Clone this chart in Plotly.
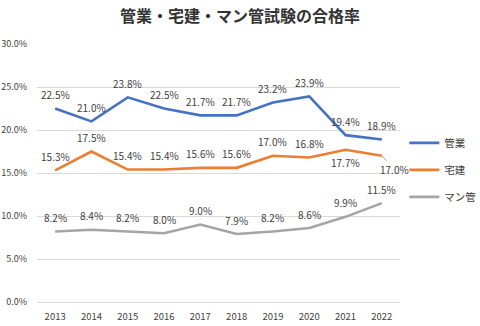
import plotly.graph_objects as go

years = ["2013", "2014", "2015", "2016", "2017", "2018", "2019", "2020", "2021", "2022"]
kangyo = [22.5, 21.0, 23.8, 22.5, 21.7, 21.7, 23.2, 23.9, 19.4, 18.9]
takken = [15.3, 17.5, 15.4, 15.4, 15.6, 15.6, 17.0, 16.8, 17.7, 17.0]
mankan = [8.2, 8.4, 8.2, 8.0, 9.0, 7.9, 8.2, 8.6, 9.9, 11.5]

series = [
    ("管業", kangyo, "#4472C4"),
    ("宅建", takken, "#ED7D31"),
    ("マン管", mankan, "#A5A5A5"),
]

FONT = "Noto Sans CJK JP"
TEXT = "#404040"

fig = go.Figure()
for i, (name, vals, color) in enumerate(series):
    fig.add_trace(go.Scatter(
        x=years, y=vals, name=name, mode="lines",
        line=dict(color=color, width=2.6),
        legendgroup=str(i),
    ))

# value labels: above the point unless overridden (dx, dy in px, arrow)
overrides = {
    ("宅建", "2021"): (0, -13, False),
    ("宅建", "2022"): (13, -14, True),
}
annotations = []
for name, vals, color in series:
    for idx, (yr, v) in enumerate(zip(years, vals)):
        dx, dy, arrow = overrides.get((name, yr), (0, 14, False))
        label = f"{v:.1f}%"
        common = dict(x=idx, y=v, xref="x", yref="y", text=label,
                      font=dict(family=FONT, size=10, color=TEXT))
        if arrow:
            annotations.append(dict(
                common, showarrow=True, ax=dx, ay=-dy,
                arrowhead=0, arrowwidth=1, arrowcolor="#A6A6A6", standoff=0,
            ))
        else:
            annotations.append(dict(common, showarrow=False, xshift=dx, yshift=dy))

fig.update_layout(
    width=480, height=326,
    margin=dict(l=37, r=80, t=44, b=24, autoexpand=False),
    paper_bgcolor="white", plot_bgcolor="white",
    font=dict(family=FONT, size=10, color=TEXT),
    title=dict(text="<b>管業・宅建・マン管試験の合格率</b>", x=0.5, xanchor="center",
               y=0.951, yanchor="middle", yref="container",
               font=dict(family=FONT, size=16, color="#333333")),
    showlegend=True,
    legend=dict(x=1.012, xanchor="left", y=0.512, yanchor="middle",
                tracegroupgap=8, traceorder="grouped",
                font=dict(family=FONT, size=10.5, color=TEXT)),
    annotations=annotations,
)
fig.update_xaxes(type="category", range=[-0.5, 9.5], showgrid=False, showline=False,
                 ticks="", ticklabelstandoff=7,
                 tickfont=dict(family=FONT, size=9.5, color=TEXT))
fig.update_yaxes(range=[0, 30], dtick=5, tickformat=".1f", ticksuffix="%",
                 showgrid=True, gridcolor="#D9D9D9", gridwidth=1, zeroline=True,
                 zerolinecolor="#D9D9D9", zerolinewidth=1, showline=False,
                 ticklabelstandoff=9,
                 tickfont=dict(family=FONT, size=9, color=TEXT))

fig.write_html("out.html")
